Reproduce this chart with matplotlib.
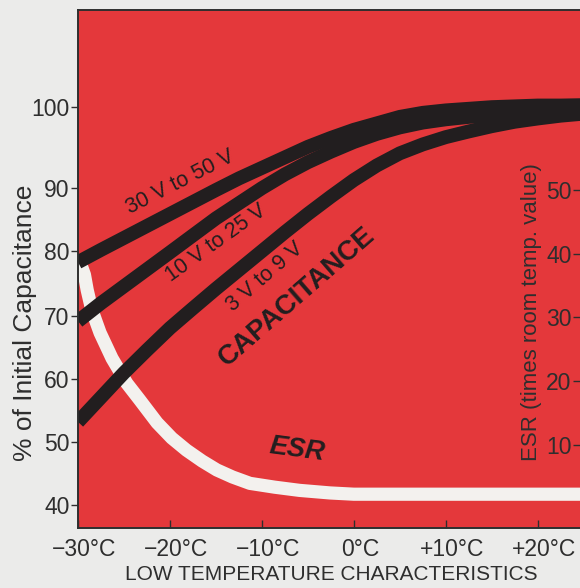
import numpy as np
import matplotlib.pyplot as plt
from matplotlib import transforms

# temperature grid (deg C) and the three capacitance bands (% of initial)
temp = [-30, -27.5, -25, -22.5, -20, -17.5, -15, -12.5, -10, -7.5, -5, -2.5,
        0, 2.5, 5, 7.5, 10, 12.5, 15, 17.5, 20, 22.5, 25]
cap_30_50 = [78.3, 80.2, 82.1, 84.0, 85.9, 87.8, 89.7, 91.2, 92.5, 93.8, 95.1, 96.2,
             97.2, 98.0, 98.8, 99.3, 99.6, 99.8, 100.0, 100.1, 100.2, 100.2, 100.25]
cap_10_25 = [69.2, 72.0, 74.6, 77.2, 79.8, 82.5, 85.2, 87.6, 90.0, 91.7, 93.2, 94.5,
             95.7, 96.7, 97.5, 98.1, 98.5, 98.8, 99.0, 99.1, 99.3, 99.3, 99.4]
cap_3_9 = [53.2, 57.1, 61.0, 64.6, 68.1, 71.2, 74.2, 77.1, 80.0, 83.0, 85.9, 88.65,
           91.0, 92.8, 94.3, 95.4, 96.3, 97.0, 97.65, 98.2, 98.6, 98.95, 99.2]

# ESR curve (times room temp. value)
esr_temp = [-30, -29.3, -29, -28.5, -27.6, -26.3, -24.7, -23.3, -21.4, -19.8, -18.2,
            -16.5, -14.9, -13.2, -11.3, -8.6, -5.9, -2.6, 0, 5, 10, 15, 20, 25]
esr_vals = [39.5, 36.7, 34.3, 31.2, 27.6, 23.6, 19.7, 17.1, 13.5, 11.1, 9.2,
            7.5, 6.1, 5.0, 4.0, 3.4, 2.9, 2.5, 2.3, 2.3, 2.3, 2.3, 2.3, 2.3]

cap_ticks = [40, 50, 60, 70, 80, 90, 100]
esr_ticks = [10, 20, 30, 40, 50]
x_ticks = [-30, -20, -10, 0, 10, 20]
x_labels = ['\u221230\u00b0C', '\u221220\u00b0C', '\u221210\u00b0C', '0\u00b0C', '+10\u00b0C', '+20\u00b0C']

# the printed capacitance scale is stretched between 90 and 100
scale_vals = [30, 40, 50, 60, 70, 80, 90, 100, 120]
scale_pos = [-40, 23, 86, 149, 212, 277, 340, 421, 583]


def fwd(v):
    return np.interp(v, scale_vals, scale_pos)


def inv(p):
    return np.interp(p, scale_pos, scale_vals)


RED = '#e4383b'
BG = '#ebebea'
INK = '#2e2e2e'
BAND = '#221e1f'
WHITE = '#f3f1ee'

plt.rcParams['font.family'] = ['Liberation Sans', 'DejaVu Sans']

fig = plt.figure(figsize=(5.8, 5.88), dpi=100, facecolor=BG)
ax = fig.add_axes([0.1345, 0.102, 0.8655, 0.881])
ax2 = ax.twinx()

# ESR axis sits behind so the black bands cover the white curve
ax.set_zorder(2)
ax2.set_zorder(1)
ax.patch.set_visible(False)
ax2.patch.set_visible(True)
ax2.set_facecolor(RED)

ax.set_yscale('function', functions=(fwd, inv))
ax.set_xlim(-30, 24.6)
ax.set_ylim(36.35, 112.0)
ax2.set_ylim(-3.0, 78.2)

ax2.plot(esr_temp, esr_vals, color=WHITE, lw=9.5, solid_capstyle='butt',
         solid_joinstyle='round')
for cap in [cap_3_9, cap_10_25, cap_30_50]:
    ax.plot(temp, cap, color=BAND, lw=10, solid_capstyle='butt', solid_joinstyle='round')

ax.set_xticks(x_ticks)
ax.set_xticklabels(x_labels)
ax.set_yticks(cap_ticks)
ax.set_yticklabels([str(v) for v in cap_ticks])
ax.minorticks_off()
ax.tick_params(axis='y', direction='out', length=5, width=1, pad=1, labelsize=16.5,
               colors=INK)
ax.tick_params(axis='x', direction='in', length=6, width=1, pad=7, labelsize=16.5,
               colors=INK)
offset = transforms.ScaledTranslation(6 / 100, 0, fig.dpi_scale_trans)
for lbl in ax.get_xticklabels():
    lbl.set_transform(lbl.get_transform() + offset)

ax2.set_yticks(esr_ticks)
ax2.set_yticklabels([str(v) for v in esr_ticks])
ax2.tick_params(axis='y', direction='in', length=5, width=1, pad=-6, labelsize=16.5,
                colors=INK)
for lbl in ax2.get_yticklabels():
    lbl.set_horizontalalignment('right')

for a in (ax, ax2):
    for s in a.spines.values():
        s.set_color(INK)
        s.set_linewidth(1.2)
    a.spines['right'].set_visible(False)

kw = dict(transform=ax.transAxes, ha='center', va='center', rotation_mode='anchor',
          color=BAND)
ax.text(0.203, 0.668, '30 V to 50 V', rotation=27, fontsize=15.5, **kw)
ax.text(0.275, 0.550, '10 V to 25 V', rotation=35.5, fontsize=15.5, **kw)
ax.text(0.3725, 0.4846, '3 V to 9 V', rotation=41, fontsize=15.5, **kw)
ax.text(0.436, 0.446, 'CAPACITANCE', rotation=41, fontsize=20, fontweight='bold', **kw)
ax.text(0.436, 0.151, 'ESR', rotation=-7.5, fontsize=19.5, fontweight='bold',
        fontstyle='italic', **kw)
ax.text(0.904, 0.417, 'ESR (times room temp. value)', rotation=90, fontsize=16,
        transform=ax.transAxes, ha='center', va='center', color=INK)

fig.text(25 / 580, 1 - 323 / 588, '% of Initial Capacitance', rotation=90, fontsize=19,
         ha='center', va='center', color=INK)
fig.text(331 / 580, 1 - 575 / 588, 'LOW TEMPERATURE CHARACTERISTICS', fontsize=15,
         ha='center', va='center', color=INK)

fig.savefig('out.png', dpi=100, facecolor=BG)
